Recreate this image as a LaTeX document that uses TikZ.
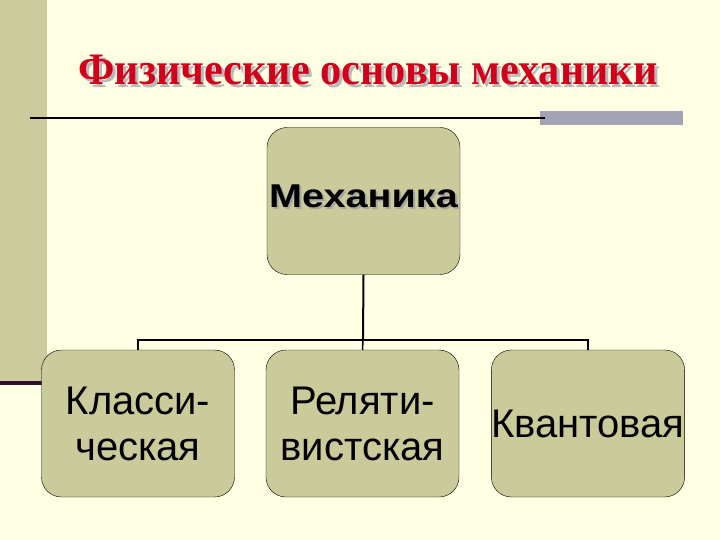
\documentclass[tikz,border=0pt]{standalone}
\usepackage{fontspec}
\setmainfont{Liberation Serif}
\setsansfont{Liberation Sans}
\usepackage{tikz}

\definecolor{cream}{HTML}{FFFFE3}
\definecolor{olive}{HTML}{CBCB9C}
\definecolor{boxfill}{HTML}{CACA9A}
\definecolor{titlered}{HTML}{D2001A}
\definecolor{bargray}{HTML}{A3A3B5}
\definecolor{darkplum}{HTML}{2E0F2E}

\tikzset{
  block/.style={draw=black, fill=boxfill, rounded corners=20pt, minimum width=193pt,
    minimum height=147pt, inner sep=0pt, align=center, font=\sffamily\fontsize{40}{46}\selectfont},
}
\newcommand{\titletext}{\scalebox{0.94}[1]{\bfseries\fontsize{45}{45}\selectfont Физические основы механики}}
\newcommand{\mechtext}{\scalebox{1.2}[1]{\sffamily\bfseries\fontsize{33}{33}\selectfont Механика}}

\begin{document}
\begin{tikzpicture}[x=1pt, y=-1pt]

%% background
\fill[cream] (0,0) rectangle (720,540);
\useasboundingbox (0,0) rectangle (720,540);
\fill[olive] (0,0) rectangle (47,383);
\fill[darkplum] (0,381) rectangle (42,385);
\fill[bargray] (540,111) rectangle (683,125);
\draw[line width=2pt] (30,118) -- (545,118);

%% title
\node[text=gray!55, anchor=base] at (371,88) {\titletext};
\node (title) [text=titlered, anchor=base] at (368,85) {\titletext};

%% boxes
\node (mech) [block] at (363.5,201) {};
\node[text=gray!70] at (365.5,198) {\mechtext};
\node (mechlabel) at (363.5,196) {\mechtext};
\node (class) [block] at (138,423.5) {Класси-\\ческая};
\node (rel) [block] at (362.5,423.5) {Реляти-\\вистская};
\node (quant) [block] at (588,423.5) {Квантовая};

%% edges
\coordinate (fork) at (363,340);
\draw[line width=2pt] (mech.south) -- (fork);
\draw[line width=1.5pt] (class.north) |- (fork) -| (quant.north);
\draw[line width=1.5pt] (fork) -- (rel.north);

\end{tikzpicture}
\end{document}
